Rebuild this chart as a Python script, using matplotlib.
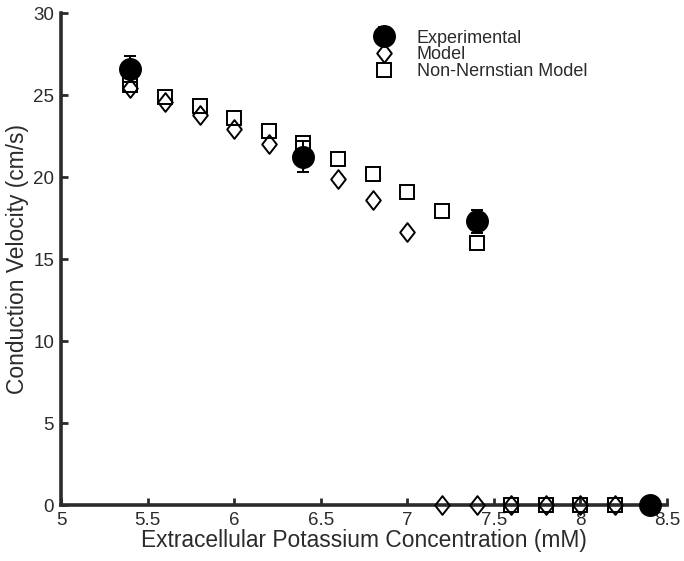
import numpy as np
import matplotlib
matplotlib.use('Agg')
import matplotlib.pyplot as plt
from matplotlib.path import Path

plt.rcParams['font.family'] = ['Liberation Sans', 'DejaVu Sans']

# experimental data (mean +/- error)
exp_k = [5.4, 6.4, 7.4, 8.4]
exp_cv = [26.6, 21.25, 17.3, 0.0]
exp_err = [0.8, 0.95, 0.7, 0.0]

# model
model_k = [5.4, 5.6, 5.8, 6.0, 6.2, 6.4, 6.6, 6.8, 7.0, 7.2, 7.4, 7.6, 7.8, 8.0, 8.2]
model_cv = [25.4, 24.6, 23.8, 22.95, 22.0, 21.1, 19.9, 18.6, 16.65, 0, 0, 0, 0, 0, 0]

# non-nernstian model
nn_k = [5.4, 5.6, 5.8, 6.0, 6.2, 6.4, 6.6, 6.8, 7.0, 7.2, 7.4, 7.6, 7.8, 8.0, 8.2]
nn_cv = [25.6, 24.9, 24.3, 23.6, 22.8, 22.1, 21.1, 20.2, 19.1, 17.9, 16.0, 0, 0, 0, 0]

# matlab-like diamond (a bit taller than wide)
diamond = Path([(0, 1), (0.78, 0), (0, -1), (-0.78, 0), (0, 1)],
               [Path.MOVETO, Path.LINETO, Path.LINETO, Path.LINETO, Path.CLOSEPOLY])

axcol = '#2b2b2b'

fig = plt.figure(figsize=(6.84, 5.61), dpi=100)
ax = fig.add_axes([0.0892, 0.0998, 0.886, 0.877])

ax.plot(model_k, model_cv, linestyle='none', marker=diamond, markersize=13.5,
        markerfacecolor='none', markeredgecolor='k', markeredgewidth=1.4,
        clip_on=False, zorder=3, label='Model')
ax.plot(nn_k, nn_cv, linestyle='none', marker='s', markersize=9.5,
        markerfacecolor='none', markeredgecolor='k', markeredgewidth=1.4,
        clip_on=False, zorder=3, label='Non-Nernstian Model')
eb = ax.errorbar(exp_k, exp_cv, yerr=exp_err, fmt='o', color='k', markersize=15.5,
                 elinewidth=1.4, capsize=4, capthick=1.4, clip_on=False, zorder=4,
                 label='Experimental')
for a in eb.lines[1] + eb.lines[2]:
    a.set_clip_on(False)

ax.set_xlim(5, 8.5)
ax.set_ylim(0, 30)
ax.set_xticks([5, 5.5, 6, 6.5, 7, 7.5, 8, 8.5])
ax.set_xticklabels(['5', '5.5', '6', '6.5', '7', '7.5', '8', '8.5'])
ax.set_yticks([0, 5, 10, 15, 20, 25, 30])

for s in ['top', 'right']:
    ax.spines[s].set_visible(False)
for s in ['left', 'bottom']:
    ax.spines[s].set_linewidth(2.6)
    ax.spines[s].set_color(axcol)
    ax.spines[s].set_zorder(2.5)

ax.tick_params(direction='in', length=5, width=2, color=axcol, labelcolor=axcol,
               labelsize=13.5, pad=5)
ax.set_xlabel('Extracellular Potassium Concentration (mM)', fontsize=16.4, color=axcol, labelpad=0)
ax.set_ylabel('Conduction Velocity (cm/s)', fontsize=16.4, color=axcol, labelpad=3)

h, l = ax.get_legend_handles_labels()
order = [l.index('Experimental'), l.index('Model'), l.index('Non-Nernstian Model')]
leg = ax.legend([h[i] for i in order], [l[i] for i in order], loc='upper left',
                bbox_to_anchor=(0.495, 0.992), frameon=False, fontsize=13,
                handlelength=1.2, handletextpad=1.18, labelspacing=-0.02,
                borderpad=0.2, numpoints=1)
for t in leg.get_texts():
    t.set_color(axcol)

fig.savefig('out.png', dpi=100)
